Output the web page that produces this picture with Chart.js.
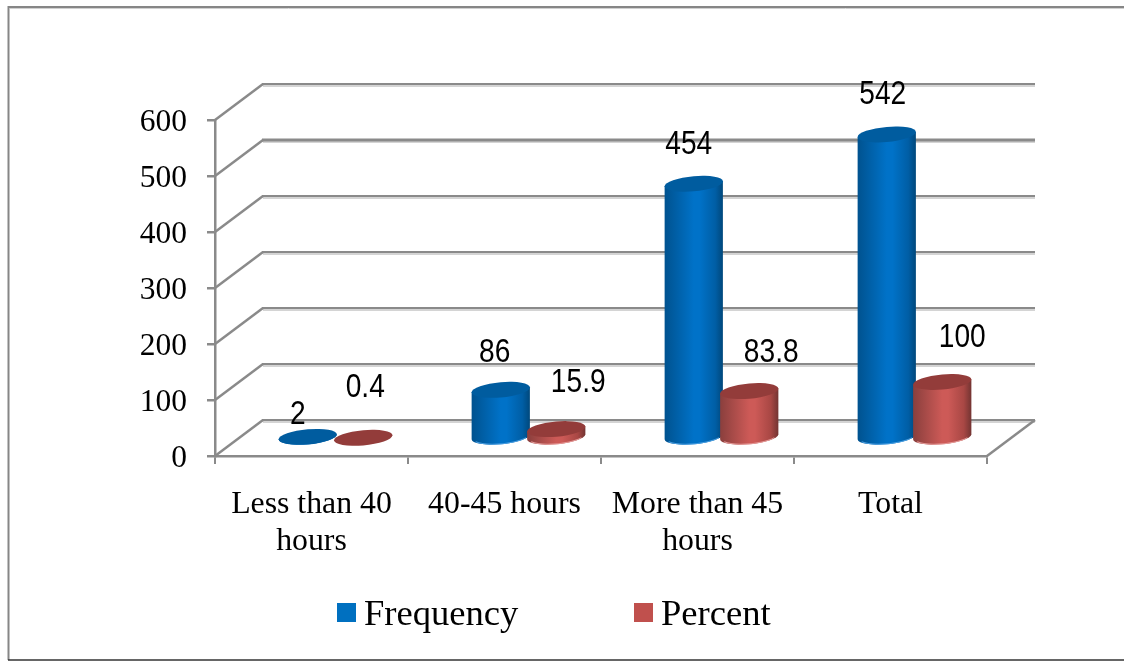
<!DOCTYPE html>
<html><head><meta charset="utf-8">
<style>html,body{margin:0;padding:0;background:#fff}canvas{display:block}</style>
<script src="https://cdn.jsdelivr.net/npm/chart.js@4"></script>
</head><body>
<canvas id="c" width="1124" height="661"></canvas>
<script>
const categories = [['Less than 40','hours'],'40-45 hours',['More than 45','hours'],'Total'];
const frequency = [2, 86, 454, 542];
const percent = [0.4, 15.9, 83.8, 100];
const yTicks = [0,100,200,300,400,500,600];

// label nudges relative to the top of each cylinder, [dx, lift] per series
const freqLabelDx = [-10,-6,-5,-4];
const freqLabelLift = [24,39,41,42];
const pctLabelDx = [2,22,22,20];
const pctLabelLift = [52,48,40,46];

const DEPTH_X = 48, DEPTH_Y = 36, GRID = '#8a8a8a';
const SERIF = '"Liberation Serif","Times New Roman",serif';
const SANS = '"Liberation Sans",Arial,sans-serif';

const palette = [
  {edgeL:'#00528f', mid:'#0072c8', edgeS:'#005ea5', edgeR:'#00487c', top:'#005c9f', rim:'#4a9ee0', swatch:'#0070c0'},
  {edgeL:'#8a3f3d', mid:'#cd5a57', edgeS:'#a84744', edgeR:'#733432', top:'#933c3a', rim:'#e49a98', swatch:'#c0504d'}
];

function cylinder(ctx, x, top, base, rx, c){
  const ry = 7.6, skew = -0.085;
  ctx.save();
  ctx.translate(x, base);
  ctx.transform(1, skew, 0, 1, 0, 0);
  const h = base - top;
  const g = ctx.createLinearGradient(-rx,0,rx,0);
  g.addColorStop(0,c.edgeL); g.addColorStop(0.5,c.mid); g.addColorStop(0.6,c.mid); g.addColorStop(0.87,c.edgeS); g.addColorStop(1,c.edgeR);
  ctx.fillStyle = g;
  ctx.beginPath();
  ctx.moveTo(-rx,-h);
  ctx.lineTo(-rx,0);
  ctx.ellipse(0,0,rx,ry,0,Math.PI,0,true);
  ctx.lineTo(rx,-h);
  ctx.closePath();
  ctx.fill();
  ctx.strokeStyle = c.rim; ctx.lineWidth = 1;
  ctx.beginPath();
  ctx.ellipse(0,-0.5,rx-1,ry,0,Math.PI*0.85,Math.PI*0.15,true);
  ctx.stroke();
  ctx.fillStyle = c.top;
  ctx.beginPath();
  ctx.ellipse(0,-h,rx,ry,0,0,Math.PI*2);
  ctx.fill();
  ctx.restore();
}

const scene = {
  id:'scene',
  beforeDatasetsDraw(chart){
    const {ctx, scales:{x,y}, chartArea:a} = chart;
    ctx.save();
    // frame
    ctx.strokeStyle = '#868686'; ctx.lineWidth = 2;
    ctx.beginPath(); ctx.moveTo(8.5,660); ctx.lineTo(8.5,7); ctx.lineTo(1124,7); ctx.stroke();
    ctx.strokeStyle = '#d0d0d0'; ctx.lineWidth = 1;
    ctx.beginPath(); ctx.moveTo(10,8.5); ctx.lineTo(1124,8.5); ctx.stroke();
    ctx.strokeStyle = '#333'; ctx.lineWidth = 1.5;
    ctx.beginPath(); ctx.moveTo(8,660); ctx.lineTo(1124,660); ctx.stroke();
    // walls
    yTicks.forEach(v=>{
      const py = y.getPixelForValue(v);
      const by = py - DEPTH_Y;
      ctx.strokeStyle = '#d4d4d4'; ctx.lineWidth = 2;
      ctx.beginPath(); ctx.moveTo(a.left+DEPTH_X, by+2); ctx.lineTo(a.right+DEPTH_X, by+2); ctx.stroke();
      ctx.strokeStyle = GRID; ctx.lineWidth = v===500 ? 3 : 2;
      ctx.beginPath(); ctx.moveTo(a.left+DEPTH_X-1, by); ctx.lineTo(a.right+DEPTH_X, by); ctx.stroke();
      ctx.lineWidth = 2.5;
      ctx.beginPath(); ctx.moveTo(a.left, py); ctx.lineTo(a.left+DEPTH_X, by); ctx.stroke();
    });
    const y0 = y.getPixelForValue(0);
    ctx.lineWidth = 2.5; ctx.strokeStyle = GRID;
    ctx.beginPath(); ctx.moveTo(a.right, y0); ctx.lineTo(a.right+DEPTH_X, y0-DEPTH_Y); ctx.stroke();
    ctx.restore();
  },
  afterDatasetsDraw(chart){
    const {ctx, scales:{y}, chartArea:a} = chart;
    chart.data.datasets.forEach((ds,i)=>{
      chart.getDatasetMeta(i).data.forEach(el=>{
        cylinder(ctx, el.x+DEPTH_X/2, el.y-DEPTH_Y/2, el.base-DEPTH_Y/2, el.width/2, palette[i]);
      });
    });
    ctx.save();
    // value-axis labels, placed from the scale
    ctx.fillStyle = '#000'; ctx.font = '31.5px '+SERIF; ctx.textAlign='right'; ctx.textBaseline='middle';
    yTicks.forEach(v=>ctx.fillText(String(v), a.left-28, y.getPixelForValue(v)+2.5));
    // data labels (horizontally condensed sans)
    const SQUEEZE = 0.84;
    ctx.font = '33.5px '+SANS; ctx.textAlign='center';
    const dx=[freqLabelDx,pctLabelDx], lift=[freqLabelLift,pctLabelLift];
    chart.data.datasets.forEach((ds,i)=>{
      chart.getDatasetMeta(i).data.forEach((el,j)=>{
        ctx.save();
        ctx.translate(el.x+DEPTH_X/2+dx[i][j], el.y-DEPTH_Y/2-lift[i][j]+2);
        ctx.scale(SQUEEZE,1);
        ctx.fillText(String(ds.data[j]), 0, 0);
        ctx.restore();
      });
    });
    // legend
    ctx.font = '36.6px '+SERIF; ctx.textAlign='left';
    const lx=[337,634];
    chart.data.datasets.forEach((ds,i)=>{
      ctx.fillStyle = palette[i].swatch; ctx.fillRect(lx[i],603,19,19);
      ctx.fillStyle = '#000'; ctx.fillText(ds.label, lx[i]+27, 615);
    });
    ctx.restore();
  }
};

new Chart(document.getElementById('c'),{
  type:'bar',
  data:{labels:categories,datasets:[
    {label:'Frequency',data:frequency,backgroundColor:'rgba(0,0,0,0)'},
    {label:'Percent',data:percent,backgroundColor:'rgba(0,0,0,0)'}
  ]},
  options:{
    responsive:false,animation:false,
    categoryPercentage:0.575,barPercentage:1.05,
    layout:{padding:{left:0,top:120,right:137,bottom:0}},
    plugins:{legend:{display:false},tooltip:{enabled:false},title:{display:false}},
    scales:{
      x:{
        afterFit(s){s.height=205;},
        grid:{drawOnChartArea:false,drawTicks:true,tickLength:8,color:GRID,lineWidth:2,offset:true},
        border:{color:GRID,width:2.5},
        ticks:{color:'#000',font:{family:SERIF,size:31.8,lineHeight:1.17},padding:22,maxRotation:0,autoSkip:false}
      },
      y:{
        min:0,max:600,
        afterFit(s){s.width=215;},
        afterBuildTicks(s){s.ticks=yTicks.map(v=>({value:v}));},
        grid:{drawOnChartArea:false,drawTicks:true,tickLength:8,color:GRID,lineWidth:2.5},
        border:{color:GRID,width:2.5},
        ticks:{display:false}
      }
    }
  },
  plugins:[scene]
});
</script>
</body></html>
